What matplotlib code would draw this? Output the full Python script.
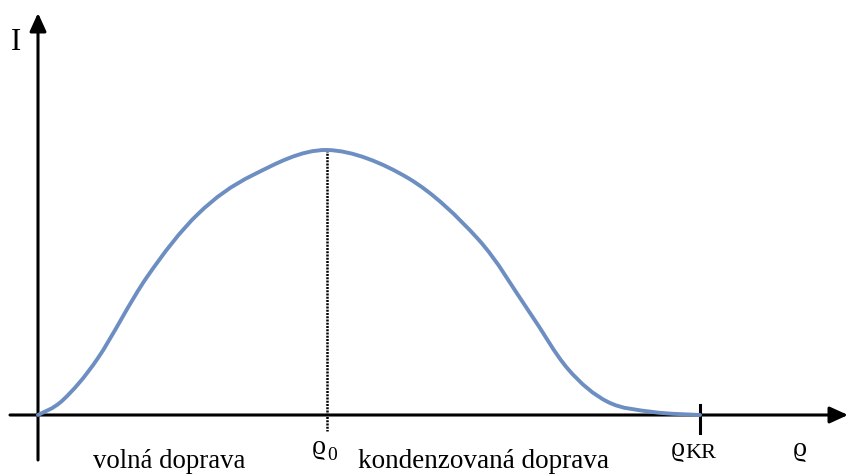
import matplotlib
matplotlib.use("Agg")
import matplotlib.pyplot as plt
from matplotlib.path import Path
from matplotlib.patches import PathPatch

# Intensity vs. density curve (density measured from the origin)
density = [0, 25, 60, 109, 160, 215, 289, 370, 440, 490, 530, 570, 615, 662]
intensity = [0, 15, 57, 138, 201, 240, 265, 237, 176, 105, 46, 13, 3, 0]

rho0 = 289          # density at peak intensity
rho_kr = 662        # critical density
peak_intensity = 265


def smooth_path(xs, ys, tension=1 / 6):
    """Cubic Bezier path through the points (Catmull-Rom style smoothing)."""
    pts = list(zip(xs, ys))
    verts = [pts[0]]
    codes = [Path.MOVETO]
    n = len(pts)
    for i in range(n - 1):
        p0 = pts[i - 1] if i > 0 else pts[i]
        p1 = pts[i]
        p2 = pts[i + 1]
        p3 = pts[i + 2] if i + 2 < n else pts[i + 1]
        c1 = (p1[0] + (p2[0] - p0[0]) * tension, p1[1] + (p2[1] - p0[1]) * tension)
        c2 = (p2[0] - (p3[0] - p1[0]) * tension, p2[1] - (p3[1] - p1[1]) * tension)
        verts += [c1, c2, p2]
        codes += [Path.CURVE4] * 3
    return Path(verts, codes)


fig = plt.figure(figsize=(8.48, 4.75), dpi=100)
ax = fig.add_axes([0, 0, 1, 1])
ax.set_xlim(-38, 810)
ax.set_ylim(-60, 415)
ax.axis("off")

serif = ["Liberation Serif", "DejaVu Serif"]

# axes with arrowheads
arrow = dict(arrowstyle="-|>,head_length=1.1,head_width=0.5", color="black",
             lw=2.2, shrinkA=0, shrinkB=0)
ax.annotate("", xy=(810, 0), xytext=(-28, 0), arrowprops=arrow)
ax.annotate("", xy=(0, 402), xytext=(0, -45), arrowprops=arrow)

# smoothed curve
ax.add_patch(PathPatch(smooth_path(density, intensity), facecolor="none",
                       edgecolor="#6d8ec1", lw=2.8, capstyle="round",
                       joinstyle="round", zorder=3))

# peak marker and critical density tick
ax.plot([rho0, rho0], [peak_intensity, -16], color="black", lw=1.8,
        linestyle=(0, (0.8, 0.5)), zorder=2)
ax.plot([rho_kr, rho_kr], [10, -18], color="black", lw=2.2)

# labels
ax.text(-22, 373, "I", fontsize=22, family=serif, ha="center", va="center")
ax.text(55, -53, "volná doprava", fontsize=19.3, family=serif,
        ha="left", va="baseline")
ax.text(320, -53, "kondenzovaná doprava", fontsize=19.5, family=serif,
        ha="left", va="baseline")

ax.text(rho0 - 1, -33, "ϱ", fontsize=20, family=serif, ha="right",
        va="center")
ax.text(rho0, -41, "0", fontsize=14, family=serif, ha="left",
        va="center")
ax.text(rho_kr - 15, -34, "ϱ", fontsize=20, family=serif, ha="right",
        va="center")
ax.text(rho_kr - 15, -43, "KR", fontsize=16, family=serif, ha="left",
        va="baseline")
ax.text(762, -34, "ϱ", fontsize=20, family=serif, ha="center", va="center")

fig.savefig("out.png", dpi=100)
